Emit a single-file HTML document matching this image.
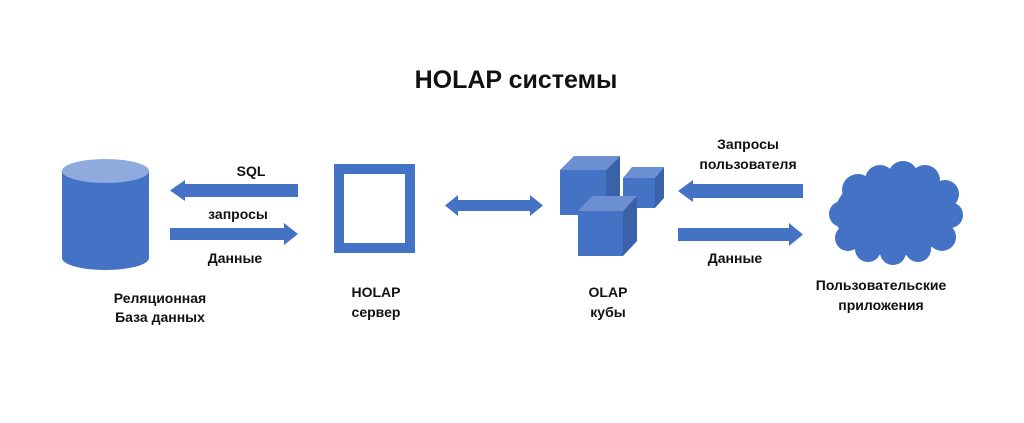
<!DOCTYPE html>
<html><head><meta charset="utf-8"><style>
body{margin:0;width:1024px;height:418px;background:#fff;overflow:hidden}
svg text{font-family:"Liberation Sans","DejaVu Sans",sans-serif;font-weight:bold;fill:#111}
</style></head><body>
<svg width="1024" height="418" viewBox="0 0 1024 418">
<text x="516" y="88" font-size="25" text-anchor="middle">HOLAP системы</text>
<!-- cylinder -->
<path d="M62 171 L62 258 A43.5 12 0 0 0 149 258 L149 171 Z" fill="#4472c4"/>
<ellipse cx="105.5" cy="171" rx="43.5" ry="12" fill="#8faadc"/>
<!-- arrows left -->
<polygon points="298,184 185,184 185,180 170,190.5 185,201 185,197 298,197" fill="#4472c4"/>
<polygon points="170,228 284,228 284,223 298,234 284,245 284,240 170,240" fill="#4472c4"/>
<text x="251" y="176" font-size="14" text-anchor="middle">SQL</text>
<text x="238" y="219" font-size="14" text-anchor="middle">запросы</text>
<text x="235" y="263" font-size="14" text-anchor="middle">Данные</text>
<!-- HOLAP server -->
<rect x="339" y="169" width="71" height="79" fill="none" stroke="#4472c4" stroke-width="10"/>
<!-- double arrow -->
<polygon points="445,205.5 458,195 458,200 530,200 530,195 543,205.5 530,216 530,211 458,211 458,216" fill="#4472c4"/>
<!-- cubes -->
<g>
<polygon points="560,170 574,156 620,156 606,170" fill="#6b8fd1"/>
<polygon points="606,170 620,156 620,201 606,215" fill="#3a62a8"/>
<rect x="560" y="170" width="46" height="45" fill="#4472c4"/>
<polygon points="623,178 632,167 664,167 655,178" fill="#6b8fd1"/>
<polygon points="655,178 664,167 664,198 655,208" fill="#3a62a8"/>
<rect x="623" y="178" width="32" height="30" fill="#4472c4"/>
<polygon points="578,211 592,196 637,196 623,211" fill="#6b8fd1"/>
<polygon points="623,211 637,196 637,241 623,256" fill="#3a62a8"/>
<rect x="578" y="211" width="45" height="45" fill="#4472c4"/>
</g>
<!-- right arrows -->
<polygon points="803,184 693,184 693,180 678,191 693,202 693,198 803,198" fill="#4472c4"/>
<polygon points="678,228 789,228 789,223 803,234.5 789,246 789,241 678,241" fill="#4472c4"/>
<text x="748" y="149" font-size="14" text-anchor="middle">Запросы</text>
<text x="748" y="169" font-size="14" text-anchor="middle">пользователя</text>
<text x="735" y="263" font-size="14" text-anchor="middle">Данные</text>
<!-- cloud -->
<g fill="#4472c4">
<ellipse cx="895" cy="214" rx="60" ry="42"/>
<circle cx="858" cy="190" r="16"/><circle cx="880" cy="180" r="15"/><circle cx="903" cy="176" r="15"/><circle cx="925" cy="180" r="15"/>
<circle cx="945" cy="194" r="14"/><circle cx="950" cy="215" r="13"/><circle cx="942" cy="237" r="14"/>
<circle cx="918" cy="249" r="13"/><circle cx="893" cy="252" r="13"/><circle cx="868" cy="249" r="13"/><circle cx="848" cy="238" r="13"/>
<circle cx="842" cy="214" r="13"/>
</g>
<!-- labels -->
<text x="160" y="303" font-size="14" text-anchor="middle">Реляционная</text>
<text x="160" y="322" font-size="14" text-anchor="middle">База данных</text>
<text x="376" y="297" font-size="14" text-anchor="middle">HOLAP</text>
<text x="376" y="317" font-size="14" text-anchor="middle">сервер</text>
<text x="608" y="297" font-size="14" text-anchor="middle">OLAP</text>
<text x="608" y="317" font-size="14" text-anchor="middle">кубы</text>
<text x="881" y="290" font-size="14" text-anchor="middle">Пользовательские</text>
<text x="881" y="310" font-size="14" text-anchor="middle">приложения</text>
</svg>
</body></html>
